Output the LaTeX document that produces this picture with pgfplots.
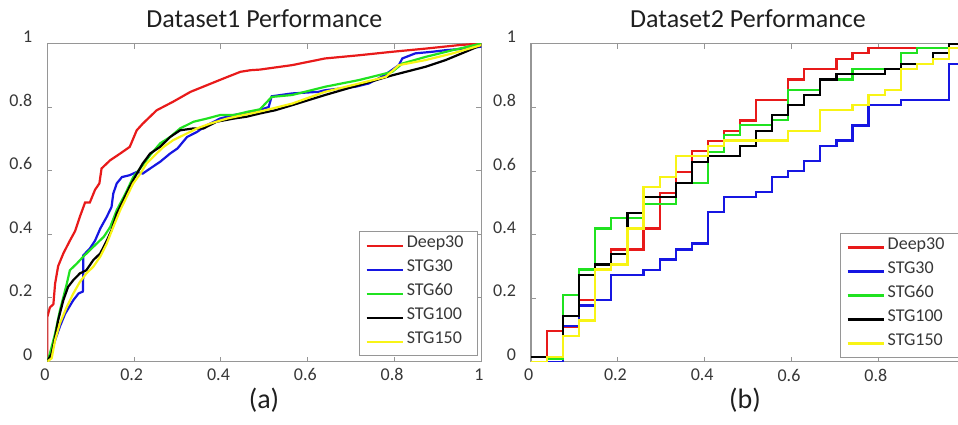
\documentclass[border=0pt]{standalone}
\usepackage{fontspec}
\setmainfont{Carlito}
\usepackage{pgfplots}
\pgfplotsset{compat=1.18}

\definecolor{mred}{RGB}{232,26,26}
\definecolor{mblue}{RGB}{22,22,226}
\definecolor{mgreen}{RGB}{32,226,32}
\definecolor{myellow}{RGB}{248,244,22}
\definecolor{axgray}{RGB}{150,150,150}
\definecolor{lbl}{RGB}{55,55,55}

\newcommand{\legtxt}[1]{\makebox[31pt][l]{\raisebox{1.5pt}{#1}}}

\pgfplotsset{
  panel/.style={
    scale only axis, width=217pt, height=159pt,
    xmin=0, xmax=1, ymin=0, ymax=1,
    xtick={0,0.2,0.4,0.6,0.8,1}, ytick={0,0.2,0.4,0.6,0.8,1},
    axis line style={draw=axgray, line width=0.6pt},
    tick style={draw=axgray, line width=0.5pt},
    major tick length=2.5pt, tick align=inside,
    tick label style={font=\fontsize{9}{10}\selectfont, text=lbl},
    /pgf/number format/assume math mode=true,
    yticklabel style={xshift=-4pt, yshift=3.5pt},
    xticklabel style={xshift=-1.2pt},
    every axis title/.style={at={(0.5,1)}, anchor=base, yshift=8pt,
      font=\fontsize{13}{15}\selectfont, text=black!88},
    every axis plot/.append style={line width=1.1pt},
    legend cell align=left,
    legend style={draw=axgray, fill=white, line width=0.5pt,
      font=\fontsize{9}{10}\selectfont, text=lbl,
      inner xsep=3pt, inner ysep=1pt, row sep=0pt,
      nodes={inner sep=1.5pt, text height=7pt, text depth=2pt}},
    legend image code/.code={\draw[#1, line width=1.1pt] (0pt,0pt) -- (18pt,0pt);},
  }
}

\begin{document}
\begin{tikzpicture}
\path[use as bounding box] (0,0) rectangle (479pt,212pt);

% ---------- (a) ----------
\begin{axis}[panel, at={(23.65pt,31.25pt)}, anchor=south west,
  title={Dataset1 Performance},
  legend style={at={(0.993,0.016)}, anchor=south east}]
\addplot[mred] coordinates {
 (0,0) (0,0.14) (0.006,0.17) (0.014,0.18) (0.018,0.245) (0.025,0.30)
 (0.037,0.34) (0.052,0.38) (0.064,0.41) (0.075,0.455) (0.087,0.50)
 (0.098,0.50) (0.11,0.54) (0.12,0.56) (0.125,0.607) (0.145,0.633)
 (0.168,0.654) (0.19,0.675) (0.206,0.727) (0.22,0.748) (0.252,0.79)
 (0.29,0.817) (0.33,0.848) (0.368,0.869) (0.406,0.89) (0.445,0.911)
 (0.468,0.916) (0.49,0.918) (0.564,0.932) (0.64,0.953) (0.718,0.963)
 (0.795,0.974) (0.872,0.984) (0.949,0.995) (1,1)};
\addlegendentry{\legtxt{Deep30}}
\addplot[mblue] coordinates {
 (0,0) (0.006,0.015) (0.018,0.067) (0.029,0.11) (0.041,0.15) (0.06,0.193)
 (0.072,0.214) (0.082,0.22) (0.083,0.287) (0.083,0.334) (0.098,0.355)
 (0.11,0.38) (0.122,0.418) (0.137,0.455) (0.148,0.486) (0.152,0.528)
 (0.16,0.56) (0.172,0.58) (0.19,0.586) (0.206,0.596) (0.22,0.591)
 (0.237,0.607) (0.26,0.628) (0.283,0.654) (0.30,0.67) (0.322,0.706)
 (0.345,0.722) (0.368,0.743) (0.398,0.764) (0.429,0.775) (0.475,0.785)
 (0.51,0.80) (0.517,0.834) (0.564,0.843) (0.625,0.848) (0.64,0.853)
 (0.71,0.864) (0.74,0.874) (0.77,0.895) (0.787,0.91) (0.81,0.932)
 (0.818,0.953) (0.848,0.969) (0.887,0.974) (0.918,0.979) (0.964,0.984)
 (1,0.99)};
\addlegendentry{\legtxt{STG30}}
\addplot[mgreen] coordinates {
 (0,0) (0.006,0.025) (0.018,0.088) (0.029,0.16) (0.045,0.245) (0.052,0.287)
 (0.068,0.308) (0.083,0.33) (0.098,0.35) (0.114,0.371) (0.13,0.392)
 (0.145,0.423) (0.16,0.476) (0.18,0.528) (0.198,0.58) (0.214,0.607)
 (0.237,0.649) (0.26,0.686) (0.283,0.706) (0.306,0.733) (0.337,0.754)
 (0.368,0.764) (0.398,0.775) (0.43,0.775) (0.46,0.785) (0.49,0.793)
 (0.517,0.832) (0.564,0.838) (0.64,0.864) (0.718,0.885) (0.795,0.911)
 (0.818,0.937) (0.872,0.958) (0.934,0.979) (1,1)};
\addlegendentry{\legtxt{STG60}}
\addplot[black] coordinates {
 (0,0) (0.01,0.025) (0.018,0.078) (0.025,0.13) (0.037,0.193) (0.048,0.235)
 (0.06,0.256) (0.075,0.277) (0.09,0.287) (0.106,0.319) (0.122,0.34)
 (0.137,0.38) (0.148,0.413) (0.16,0.465) (0.175,0.507) (0.19,0.55)
 (0.206,0.59) (0.22,0.623) (0.237,0.654) (0.26,0.675) (0.283,0.706)
 (0.306,0.727) (0.337,0.733) (0.36,0.733) (0.39,0.754) (0.43,0.764)
 (0.46,0.77) (0.49,0.78) (0.525,0.79) (0.564,0.806) (0.64,0.838)
 (0.718,0.869) (0.795,0.9) (0.872,0.927) (0.918,0.948) (0.964,0.974)
 (1,0.995)};
\addlegendentry{\legtxt{STG100}}
\addplot[myellow] coordinates {
 (0,0) (0.01,0.01) (0.018,0.067) (0.029,0.12) (0.045,0.172) (0.06,0.214)
 (0.075,0.25) (0.09,0.277) (0.106,0.298) (0.122,0.33) (0.137,0.371)
 (0.152,0.423) (0.168,0.476) (0.183,0.518) (0.198,0.56) (0.214,0.59)
 (0.229,0.623) (0.248,0.649) (0.268,0.675) (0.29,0.696) (0.314,0.712)
 (0.345,0.733) (0.375,0.748) (0.414,0.764) (0.452,0.775) (0.49,0.786)
 (0.564,0.811) (0.64,0.848) (0.718,0.874) (0.78,0.895) (0.81,0.932)
 (0.872,0.948) (0.934,0.969) (1,0.995)};
\addlegendentry{\legtxt{STG150}}
\end{axis}

% ---------- (b) ----------
\begin{axis}[panel, at={(265.5pt,31.1pt)}, anchor=south west,
  title={Dataset2 Performance}, const plot,
  legend style={at={(0.712,0.012)}, anchor=south west}]
\addplot[mred] coordinates {
 (0,0) (0.0370,0.096) (0.0741,0.11) (0.1111,0.194) (0.1481,0.306)
 (0.1852,0.353) (0.2222,0.353) (0.2593,0.419) (0.2963,0.531) (0.3333,0.597)
 (0.3704,0.662) (0.4074,0.694) (0.4444,0.726) (0.4815,0.759) (0.5185,0.823)
 (0.5556,0.823) (0.5926,0.888) (0.6296,0.921) (0.6667,0.921) (0.7037,0.953)
 (0.7407,0.970) (0.7778,0.987) (0.8148,0.987) (0.8519,0.987) (0.8889,0.987)
 (0.9259,0.987) (0.9630,1.0) (1,1.0)};
\addlegendentry{\legtxt{Deep30}}
\addplot[mblue] coordinates {
 (0,0) (0.0370,0) (0.0741,0.112) (0.1111,0.177) (0.1481,0.194)
 (0.1852,0.273) (0.2222,0.273) (0.2593,0.289) (0.2963,0.322) (0.3333,0.353)
 (0.3704,0.372) (0.4074,0.470) (0.4444,0.517) (0.4815,0.517) (0.5185,0.533)
 (0.5556,0.582) (0.5926,0.600) (0.6296,0.632) (0.6667,0.679) (0.7037,0.696)
 (0.7407,0.743) (0.7778,0.808) (0.8148,0.808) (0.8519,0.823) (0.8889,0.823)
 (0.9259,0.823) (0.9630,0.936) (1,0.936)};
\addlegendentry{\legtxt{STG30}}
\addplot[mgreen] coordinates {
 (0,0) (0.0370,0.01) (0.0741,0.21) (0.1111,0.29) (0.1481,0.419)
 (0.1852,0.452) (0.2222,0.452) (0.2593,0.497) (0.2963,0.497) (0.3333,0.562)
 (0.3704,0.562) (0.4074,0.66) (0.4444,0.712) (0.4815,0.744) (0.5185,0.744)
 (0.5556,0.760) (0.5926,0.855) (0.6296,0.855) (0.6667,0.888) (0.7037,0.888)
 (0.7407,0.921) (0.7778,0.921) (0.8148,0.921) (0.8519,0.970) (0.8889,0.987)
 (0.9259,0.987) (0.9630,1.0) (1,1.0)};
\addlegendentry{\legtxt{STG60}}
\addplot[black] coordinates {
 (0,0.016) (0.0370,0.016) (0.0741,0.143) (0.1111,0.273) (0.1481,0.306)
 (0.1852,0.338) (0.2222,0.469) (0.2593,0.517) (0.2963,0.517) (0.3333,0.562)
 (0.3704,0.628) (0.4074,0.646) (0.4444,0.646) (0.4815,0.679) (0.5185,0.727)
 (0.5556,0.776) (0.5926,0.808) (0.6296,0.839) (0.6667,0.888) (0.7037,0.904)
 (0.7407,0.904) (0.7778,0.904) (0.8148,0.921) (0.8519,0.937) (0.8889,0.937)
 (0.9259,0.970) (0.9630,1.0) (1,1.0)};
\addlegendentry{\legtxt{STG100}}
\addplot[myellow] coordinates {
 (0,0) (0.0370,0.016) (0.0741,0.08) (0.1111,0.13) (0.1481,0.29)
 (0.1852,0.306) (0.2222,0.419) (0.2593,0.55) (0.2963,0.582) (0.3333,0.646)
 (0.3704,0.646) (0.4074,0.679) (0.4444,0.696) (0.4815,0.696) (0.5185,0.696)
 (0.5556,0.696) (0.5926,0.727) (0.6296,0.727) (0.6667,0.792) (0.7037,0.792)
 (0.7407,0.808) (0.7778,0.839) (0.8148,0.855) (0.8519,0.921) (0.8889,0.937)
 (0.9259,0.953) (0.9630,0.987) (1,0.987)};
\addlegendentry{\legtxt{STG150}}
\end{axis}

\node[anchor=base, font=\fontsize{14}{16}\selectfont, text=black!88] at (132pt,8pt) {(a)};
\node[anchor=base, font=\fontsize{14}{16}\selectfont, text=black!88] at (372.5pt,8pt) {(b)};
\end{tikzpicture}
\end{document}
